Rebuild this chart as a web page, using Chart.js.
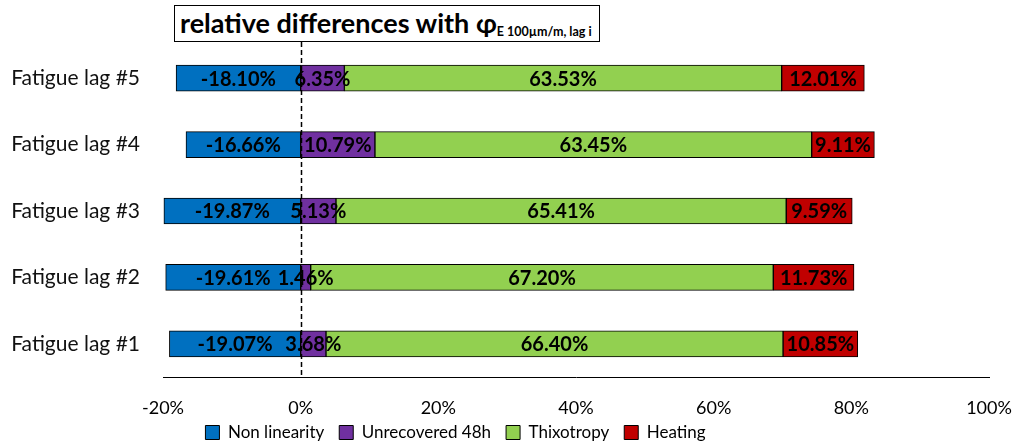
<!DOCTYPE html>
<html>
<head>
<meta charset="utf-8">
<script src="https://cdn.jsdelivr.net/npm/chart.js@4.4.1/dist/chart.umd.min.js"></script>
<style>
  body { margin: 0; background: #fff; }
  #wrap { position: relative; width: 1019px; height: 447px; }
  #title {
    position: absolute; left: 174px; top: 5px; width: 426px; height: 37px;
    border: 1px solid #000; background: #fff;
    font: bold 27px Lato, sans-serif; color: #000;
    padding-left: 5px; box-sizing: border-box; line-height: 33px; white-space: nowrap;
  }
  #title sub { font-size: 12.5px; vertical-align: -3px; }
</style>
</head>
<body>
<div id="wrap">
  <canvas id="chart" width="1019" height="447"></canvas>
  <div id="title">relative differences with φ<sub>E 100µm/m, lag i</sub></div>
</div>
<script>
const categories = ['Fatigue lag #5', 'Fatigue lag #4', 'Fatigue lag #3', 'Fatigue lag #2', 'Fatigue lag #1'];
const nonLinearity = [-18.10, -16.66, -19.87, -19.61, -19.07];
const unrecovered = [6.35, 10.79, 5.13, 1.46, 3.68];
const thixotropy = [63.53, 63.45, 65.41, 67.20, 66.40];
const heating = [12.01, 9.11, 9.59, 11.73, 10.85];

const FONT = 'Lato, sans-serif';

// dashed line at 0 and the value labels in the middle of each piece
const overlay = {
  id: 'overlay',
  afterLayout(chart) {
    // the legend sits a bit left of centre in the original
    const lg = chart.legend;
    lg.left -= 39; lg.right -= 39;
    lg.top -= 8; lg.bottom -= 8;
  },
  afterDatasetsDraw(chart) {
    const ctx = chart.ctx;
    const x0 = Math.round(chart.scales.x.getPixelForValue(0)) + 0.5;
    ctx.save();
    ctx.strokeStyle = '#000';
    ctx.lineWidth = 1.5;
    ctx.setLineDash([5, 3]);
    ctx.beginPath();
    ctx.moveTo(x0, 42);
    ctx.lineTo(x0, chart.chartArea.bottom);
    ctx.stroke();
    ctx.setLineDash([]);

    ctx.font = 'bold 20px ' + FONT;
    ctx.fillStyle = '#000';
    ctx.textAlign = 'center';
    ctx.textBaseline = 'middle';
    chart.data.datasets.forEach((ds, i) => {
      chart.getDatasetMeta(i).data.forEach((bar, j) => {
        const p = bar.getCenterPoint();
        ctx.fillText(ds.data[j].toFixed(2) + '%', p.x, p.y + 1);
      });
    });
    ctx.restore();
  }
};

function makeSet(label, data, color) {
  return {
    label: label,
    data: data,
    backgroundColor: color,
    borderColor: '#000',
    borderWidth: 1,
    borderSkipped: false,
    barThickness: 26,
  };
}

new Chart(document.getElementById('chart'), {
  type: 'bar',
  data: {
    labels: categories,
    datasets: [
      makeSet('Non linearity', nonLinearity, '#0070C0'),
      makeSet('Unrecovered 48h', unrecovered, '#7030A0'),
      makeSet('Thixotropy', thixotropy, '#92D050'),
      makeSet('Heating', heating, '#C00000'),
    ],
  },
  options: {
    indexAxis: 'y',
    responsive: false,
    animation: false,
    devicePixelRatio: 1,
    layout: { padding: { top: 45, left: 0, right: 30, bottom: -12 } },
    scales: {
      x: {
        stacked: true,
        min: -20,
        max: 100,
        grid: { display: false, drawTicks: true, tickLength: 18 },
        border: { display: true, color: '#000', width: 1 },
        ticks: {
          stepSize: 20,
          padding: 2,
          color: '#000',
          font: { family: FONT, size: 18 },
          callback: (v) => v + '%',
        },
        afterFit(scale) { scale.height = 40; },
      },
      y: {
        stacked: true,
        grid: { display: false, drawTicks: false },
        border: { display: false },
        ticks: {
          padding: 23,
          color: '#111',
          font: { family: FONT, size: 21 },
        },
        afterFit(scale) { scale.width = 163; },
      },
    },
    plugins: {
      legend: {
        position: 'bottom',
        labels: {
          color: '#000',
          font: { family: FONT, size: 17 },
          boxWidth: 14,
          boxHeight: 14,
          padding: 15,
        },
      },
      tooltip: { enabled: false },
    },
  },
  plugins: [overlay],
});
</script>
</body>
</html>
